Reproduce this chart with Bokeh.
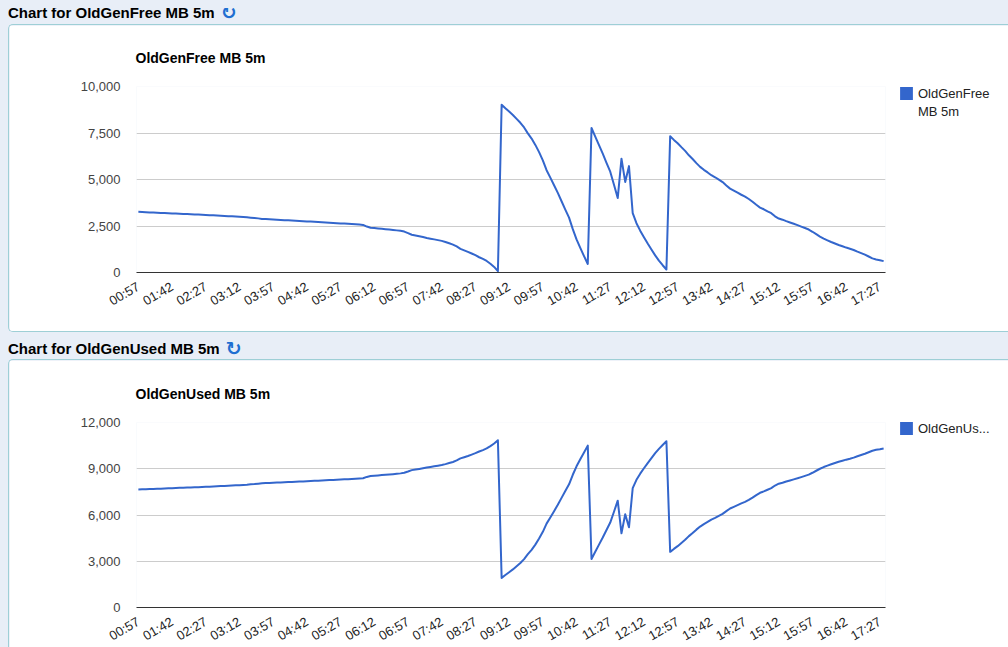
from math import pi
from bokeh.plotting import figure
from bokeh.models import (ColumnDataSource, FixedTicker, NumeralTickFormatter,
                          Legend, LegendItem, Div, Range1d)
from bokeh.layouts import column
from bokeh.embed import file_html
from bokeh.resources import INLINE

# ---------------- data ----------------
tick_labels = ["00:57", "01:42", "02:27", "03:12", "03:57", "04:42", "05:27", "06:12",
               "06:57", "07:42", "08:27", "09:12", "09:57", "10:42", "11:27", "12:12",
               "12:57", "13:42", "14:27", "15:12", "15:57", "16:42", "17:27"]
tick_step = 9  # one label every 9 samples (45 minutes)

free_mb = [
    3260, 3250, 3241, 3232, 3223, 3214, 3205, 3196, 3187, 3178,
    3169, 3160, 3151, 3142, 3133, 3124, 3114, 3104, 3094, 3084,
    3074, 3063, 3052, 3041, 3030, 3018, 3006, 2994, 2981, 2968,
    2950, 2933, 2910, 2882, 2870, 2858, 2847, 2836, 2825, 2814,
    2803, 2792, 2781, 2770, 2759, 2748, 2737, 2725, 2713, 2701,
    2689, 2677, 2665, 2653, 2641, 2628, 2615, 2602, 2589, 2575,
    2560, 2470, 2410, 2390, 2370, 2350, 2330, 2310, 2290, 2265,
    2240, 2200, 2120, 2030, 1990, 1950, 1905, 1860, 1820, 1780,
    1740, 1700, 1640, 1570, 1500, 1400, 1270, 1190, 1110, 1020,
    930, 820, 730, 620, 470, 300, 70, 9020, 8830, 8650,
    8470, 8260, 8050, 7800, 7480, 7200, 6860, 6470, 6030, 5500,
    5100, 4690, 4280, 3830, 3380, 2950, 2330, 1780, 1320, 880,
    460, 7770, 7310, 6850, 6390, 5900, 5420, 4720, 4000, 6120,
    4870, 5720, 3190, 2650, 2250, 1900, 1560, 1240, 920, 640,
    390, 160, 7320, 7130, 6950, 6740, 6540, 6300, 6100, 5880,
    5680, 5520, 5380, 5230, 5120, 4990, 4860, 4680, 4510, 4400,
    4290, 4180, 4080, 3950, 3800, 3640, 3490, 3400, 3290, 3190,
    3020, 2900, 2840, 2760, 2690, 2620, 2550, 2470, 2390, 2310,
    2190, 2060, 1930, 1820, 1730, 1640, 1560, 1480, 1410, 1340,
    1280, 1210, 1120, 1040, 960, 860, 760, 700, 660, 610,
]

used_mb = [
    7655, 7665, 7674, 7683, 7692, 7701, 7710, 7719, 7728, 7737,
    7751, 7760, 7769, 7778, 7787, 7796, 7806, 7816, 7826, 7836,
    7856, 7867, 7878, 7889, 7900, 7912, 7924, 7936, 7949, 7962,
    7990, 8007, 8030, 8058, 8070, 8082, 8093, 8104, 8115, 8126,
    8137, 8148, 8159, 8170, 8181, 8192, 8203, 8215, 8227, 8239,
    8251, 8263, 8275, 8287, 8299, 8312, 8325, 8338, 8351, 8365,
    8380, 8470, 8530, 8550, 8570, 8590, 8610, 8630, 8650, 8675,
    8700, 8740, 8820, 8910, 8950, 8990, 9035, 9080, 9120, 9160,
    9200, 9240, 9300, 9370, 9440, 9540, 9670, 9750, 9830, 9920,
    10010, 10120, 10210, 10320, 10470, 10640, 10850, 1920, 2110, 2290,
    2470, 2680, 2890, 3140, 3460, 3740, 4080, 4470, 4910, 5440,
    5840, 6250, 6660, 7110, 7560, 7990, 8610, 9160, 9620, 10060,
    10500, 3150, 3620, 4080, 4540, 5030, 5510, 6210, 6930, 4810,
    6050, 5200, 7740, 8280, 8680, 9030, 9370, 9690, 10010, 10290,
    10540, 10780, 3610, 3800, 3980, 4190, 4390, 4630, 4830, 5050,
    5250, 5410, 5550, 5700, 5810, 5940, 6070, 6250, 6420, 6530,
    6640, 6750, 6850, 6980, 7130, 7290, 7440, 7530, 7640, 7740,
    7910, 8030, 8090, 8170, 8240, 8310, 8380, 8460, 8540, 8620,
    8740, 8870, 9000, 9110, 9200, 9290, 9370, 9450, 9520, 9590,
    9650, 9720, 9810, 9890, 9970, 10070, 10170, 10230, 10270, 10320,
]

# ---------------- style ----------------
FONT = "Liberation Sans"
BLUE = "#3366cc"
PAGE_BG = "#e8eef7"
BOX_BORDER = "#9ecfd6"


def make_chart(title, values, legend_lines, y_max, y_step,
               b_top, b_bottom, legend_xy, box_styles):
    n = len(values)
    xs = list(range(n))
    src = ColumnDataSource(dict(x=xs, y=values))
    p = figure(frame_width=748, frame_height=184,
               x_range=Range1d(-0.5, n - 0.5), y_range=Range1d(0, y_max),
               output_backend="svg", toolbar_location=None,
               min_border_left=127, min_border_right=124,
               min_border_top=b_top, min_border_bottom=b_bottom,
               background_fill_color="white", border_fill_color="white",
               outline_line_color=None, styles=box_styles)
    p.title.text = title
    p.title.text_font = FONT
    p.title.text_font_size = "14px"
    p.title.text_font_style = "bold"
    p.title.text_color = "#000000"
    p.title.align = "left"
    p.title.offset = -1
    p.title.standoff = 42

    p.line("x", "y", source=src, line_color=BLUE, line_width=2, line_join="round")

    # y axis
    yax = p.yaxis[0]
    yax.ticker = FixedTicker(ticks=list(range(0, y_max + 1, y_step)))
    yax.formatter = NumeralTickFormatter(format="0,0")
    yax.axis_line_color = None
    yax.major_tick_line_color = None
    yax.minor_tick_line_color = None
    yax.major_tick_out = 0
    yax.major_tick_in = 0
    yax.major_label_standoff = 16
    yax.major_label_text_font = FONT
    yax.major_label_text_font_size = "13px"
    yax.major_label_text_color = "#444444"

    # x axis
    xax = p.xaxis[0]
    xax.ticker = FixedTicker(ticks=[k * tick_step for k in range(len(tick_labels))])
    xax.major_label_overrides = {k * tick_step: lbl for k, lbl in enumerate(tick_labels)}
    xax.axis_line_color = "#333333"
    xax.axis_line_width = 1
    xax.major_tick_line_color = None
    xax.minor_tick_line_color = None
    xax.major_tick_out = 0
    xax.major_tick_in = 0
    xax.major_label_orientation = pi / 6
    xax.major_label_standoff = 13
    xax.major_label_text_font = FONT
    xax.major_label_text_font_size = "13px"
    xax.major_label_text_color = "#222222"

    p.xgrid.visible = False
    p.ygrid.grid_line_color = "#cccccc"
    p.ygrid.grid_line_width = 1

    # legend swatch (square block): a zero-size quad at the first sample
    sw_src = ColumnDataSource(dict(l=[xs[0]], r=[xs[0]], t=[0], b=[0]))
    swatch = p.quad(left="l", right="r", top="t", bottom="b", source=sw_src,
                    fill_color=BLUE, line_color=None)
    items = [LegendItem(label=legend_lines[0], renderers=[swatch])]
    if len(legend_lines) > 1:
        # continuation line of a wrapped legend label: no visible swatch
        blank = p.quad(left="l", right="r", top="t", bottom="b", source=sw_src,
                       fill_alpha=0, line_color=None)
        for extra in legend_lines[1:]:
            items.append(LegendItem(label=extra, renderers=[blank]))
    legend = Legend(items=items,
                    location=legend_xy, padding=0, margin=0, spacing=2,
                    glyph_width=16, glyph_height=16, label_height=16, label_width=20,
                    label_standoff=4, border_line_color=None, background_fill_alpha=0,
                    label_text_font=FONT, label_text_font_size="13px",
                    label_text_color="#222222")
    p.add_layout(legend, "right")
    return p


def header(text, height, shift):
    return Div(text=(f'<div style="position:relative;top:{shift}px;white-space:nowrap;'
                     f'font:bold 15px \'{FONT}\',Arial,sans-serif;color:#000;">{text}'
                     '<span style="position:relative;top:1px;color:#1f6fd1;'
                     'font:bold 19px \'DejaVu Sans\';line-height:15px;'
                     'margin-left:6px;">&#8635;</span></div>'),
               width=1000, height=height, margin=0)


edge = f"1px solid {BOX_BORDER}"
hdr1 = header("Chart for OldGenFree MB 5m", 16, -4)
fig1 = make_chart("OldGenFree MB 5m", free_mb, ["OldGenFree", "MB 5m"], 10000, 2500,
                  61, 61, (13, 153),
                  {"border-top": edge, "border-left": edge, "border-bottom": edge,
                   "border-radius": "5px 0 0 5px", "overflow": "hidden"})
hdr2 = header("Chart for OldGenUsed MB 5m", 27, 8)
fig2 = make_chart("OldGenUsed MB 5m", used_mb, ["OldGenUs..."], 12000, 3000,
                  62, 41, (13, 171),
                  {"border-top": edge, "border-left": edge,
                   "border-radius": "5px 0 0 0", "overflow": "hidden"})

page = column(hdr1, fig1, hdr2, fig2, spacing=0, margin=0)

html = file_html(page, INLINE, title="OldGen charts")
html = html.replace("</head>",
                    f"<style>html{{background:{PAGE_BG};overflow:hidden;}} "
                    f"body{{background:{PAGE_BG};margin:8px 0 0 8px;}}</style></head>", 1)
open("out.html", "w").write(html)
